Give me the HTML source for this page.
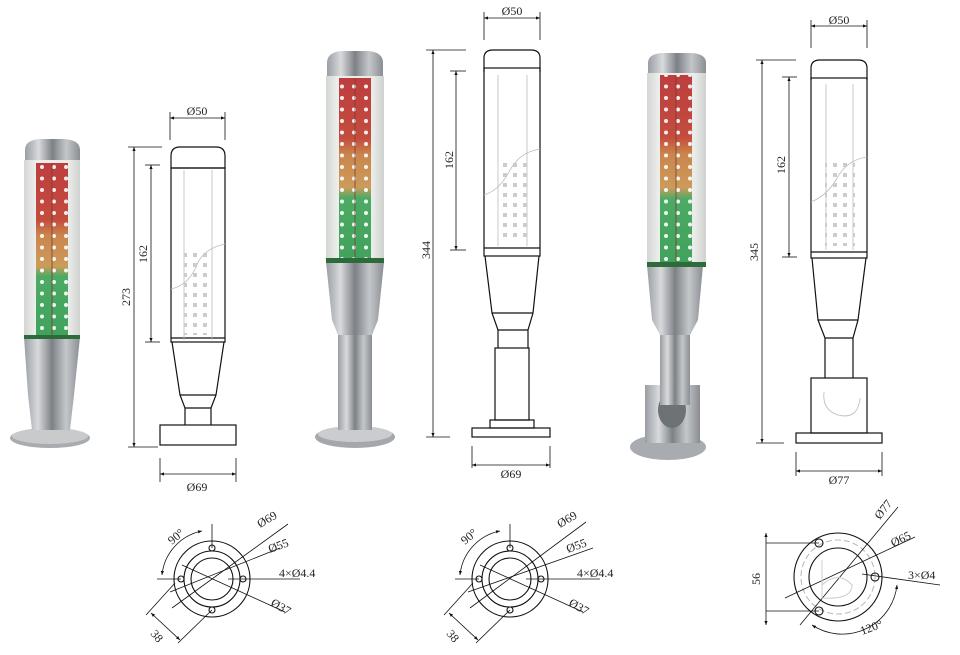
<!DOCTYPE html>
<html><head><meta charset="utf-8"><style>
html,body{margin:0;padding:0;background:#fff;}
svg{display:block;}
text{font-family:"Liberation Serif",serif;fill:#222;}
</style></head><body>
<svg width="960" height="655" viewBox="0 0 960 655" xmlns="http://www.w3.org/2000/svg">
<defs>
<marker id="ar" viewBox="0 0 10 10" refX="10" refY="5" markerWidth="7" markerHeight="5" orient="auto-start-reverse">
<path d="M0 1 L10 5 L0 9 Z" fill="#111"/></marker>
<linearGradient id="led" x1="0" y1="0" x2="0" y2="1">
<stop offset="0" stop-color="#b82a2c"/><stop offset="0.33" stop-color="#bf3a2a"/>
<stop offset="0.42" stop-color="#c67a3a"/><stop offset="0.6" stop-color="#c8924a"/>
<stop offset="0.66" stop-color="#3aa356"/><stop offset="1" stop-color="#2d9a4c"/>
</linearGradient>
<linearGradient id="metal" x1="0" y1="0" x2="1" y2="0">
<stop offset="0" stop-color="#9a9ea3"/><stop offset="0.25" stop-color="#d8dadc"/>
<stop offset="0.5" stop-color="#7d8186"/><stop offset="0.75" stop-color="#c4c7ca"/>
<stop offset="1" stop-color="#8a8e92"/>
</linearGradient>
<linearGradient id="lens" x1="0" y1="0" x2="1" y2="0">
<stop offset="0" stop-color="#d4d6d4"/><stop offset="0.2" stop-color="#eceeec"/>
<stop offset="0.8" stop-color="#eaecea"/><stop offset="1" stop-color="#cfd1cf"/>
</linearGradient>
<pattern id="dots" width="12" height="11.5" patternUnits="userSpaceOnUse">
<circle cx="6" cy="6" r="2" fill="#fff" opacity="0.9"/>
</pattern>
<pattern id="sq" width="10" height="10" patternUnits="userSpaceOnUse">
<rect x="3" y="3" width="4" height="4" fill="#ccc"/>
</pattern>
</defs>

<!-- ===== PHOTO 1 ===== -->
<g>
<ellipse cx="50" cy="438" rx="40" ry="10" fill="#a8acb0"/>
<ellipse cx="50" cy="436" rx="38" ry="8" fill="#c8cacc"/>
<path d="M24 337 H80 L74 395 L70 430 H32 L28 395 Z" fill="url(#metal)"/>
<rect x="24" y="160" width="56" height="178" fill="url(#lens)"/>
<rect x="36" y="163" width="32" height="172" fill="url(#led)" opacity="0.9"/>
<rect x="36" y="163" width="32" height="172" fill="url(#dots)"/>
<line x1="52" y1="163" x2="52" y2="335" stroke="#7a3a30" stroke-width="1.5" opacity="0.5"/>
<path d="M25 160 V150 Q25 140 40 139 H64 Q80 140 80 150 V160 Z" fill="url(#metal)"/>
<rect x="24" y="335" width="56" height="4" fill="#2e6b3a"/>
</g>

<!-- ===== PHOTO 2 ===== -->
<g>
<ellipse cx="355" cy="437" rx="40" ry="11" fill="#a4a8ac"/>
<ellipse cx="355" cy="434" rx="37" ry="8" fill="#cacccf"/>
<rect x="338" y="330" width="34" height="100" fill="url(#metal)"/>
<path d="M326 262 H384 L378 320 L372 335 H338 L332 320 Z" fill="url(#metal)"/>
<rect x="326" y="76" width="58" height="186" fill="url(#lens)"/>
<rect x="339" y="78" width="32" height="182" fill="url(#led)" opacity="0.9"/>
<rect x="339" y="78" width="32" height="182" fill="url(#dots)"/>
<line x1="355" y1="78" x2="355" y2="260" stroke="#7a3a30" stroke-width="1.5" opacity="0.5"/>
<path d="M327 76 V63 Q327 52 342 51 H368 Q383 52 383 63 V76 Z" fill="url(#metal)"/>
<rect x="326" y="258" width="58" height="5" fill="#2e6b3a"/>
</g>

<!-- ===== PHOTO 3 ===== -->
<g>
<ellipse cx="668" cy="447" rx="38" ry="13" fill="#a8acb0"/>
<rect x="645" y="385" width="55" height="58" fill="url(#metal)"/>
<ellipse cx="672" cy="410" rx="14" ry="18" fill="#6d7276"/>
<rect x="660" y="330" width="30" height="75" fill="url(#metal)"/>
<path d="M647 265 H703 L698 320 L690 335 H660 L652 320 Z" fill="url(#metal)"/>
<rect x="647" y="73" width="59" height="192" fill="url(#lens)"/>
<rect x="660" y="75" width="32" height="188" fill="url(#led)" opacity="0.9"/>
<rect x="660" y="75" width="32" height="188" fill="url(#dots)"/>
<line x1="676" y1="75" x2="676" y2="263" stroke="#7a3a30" stroke-width="1.5" opacity="0.5"/>
<path d="M648 73 V63 Q648 54 662 53 H692 Q706 54 706 63 V73 Z" fill="url(#metal)"/>
<rect x="647" y="262" width="59" height="5" fill="#2e6b3a"/>
</g>

<g fill="none" stroke="#111" stroke-width="1.2">
<!-- ===== DRAWING 1 ===== -->
<path d="M171 168 V156 Q171 147 180 147 H216 Q225 147 225 156 V168 Z"/>
<rect x="171" y="168" width="54" height="174"/>
<line x1="171" y1="338" x2="225" y2="338"/>
<path d="M172 342 L180 395 L185 408 V425 M224 342 L216 395 L211 408 V425 M180 395 H216 M185 408 H211"/>
<rect x="160" y="425" width="76" height="20"/>
<g stroke-width="0.8">
<line x1="170" y1="112" x2="170" y2="140"/><line x1="225" y1="112" x2="225" y2="140"/>
<line x1="170" y1="118" x2="225" y2="118" marker-start="url(#ar)" marker-end="url(#ar)"/>
<line x1="128" y1="147" x2="162" y2="147"/><line x1="128" y1="447" x2="158" y2="447"/>
<line x1="134" y1="147" x2="134" y2="447" marker-start="url(#ar)" marker-end="url(#ar)"/>
<line x1="145" y1="165" x2="160" y2="165"/><line x1="145" y1="342" x2="160" y2="342"/>
<line x1="151" y1="165" x2="151" y2="342" marker-start="url(#ar)" marker-end="url(#ar)"/>
<line x1="160" y1="458" x2="160" y2="482"/><line x1="236" y1="458" x2="236" y2="482"/>
<line x1="160" y1="474" x2="236" y2="474" marker-start="url(#ar)" marker-end="url(#ar)"/>
</g>
</g>
<g stroke="#bbb" fill="none" stroke-width="0.8">
<line x1="184" y1="170" x2="184" y2="340"/><line x1="212" y1="170" x2="212" y2="340"/>
<path d="M171 289 Q190 285 198 262 Q206 248 225 244"/>
</g>
<rect x="184" y="250" width="28" height="85" fill="url(#sq)"/>

<!-- ===== DRAWING 2 ===== -->
<g fill="none" stroke="#111" stroke-width="1.2">
<path d="M484 72 V58 Q484 50 493 50 H531 Q540 50 540 58 V72"/>
<rect x="484" y="68" width="56" height="188"/>
<line x1="484" y1="248" x2="540" y2="248"/>
<path d="M485 256 L492 313 L498 330 V348 M539 256 L533 313 L528 330 V348 M492 313 H533 M498 330 H528"/>
<rect x="495" y="348" width="34" height="72"/>
<rect x="490" y="420" width="44" height="8"/>
<rect x="472" y="428" width="78" height="9"/>
<g stroke-width="0.8">
<line x1="484" y1="12" x2="484" y2="40"/><line x1="540" y1="12" x2="540" y2="40"/>
<line x1="484" y1="18" x2="540" y2="18" marker-start="url(#ar)" marker-end="url(#ar)"/>
<line x1="426" y1="50" x2="466" y2="50"/><line x1="426" y1="437" x2="450" y2="437"/>
<line x1="433" y1="50" x2="433" y2="437" marker-start="url(#ar)" marker-end="url(#ar)"/>
<line x1="450" y1="71" x2="466" y2="71"/><line x1="450" y1="250" x2="466" y2="250"/>
<line x1="456" y1="71" x2="456" y2="250" marker-start="url(#ar)" marker-end="url(#ar)"/>
<line x1="472" y1="446" x2="472" y2="468"/><line x1="550" y1="446" x2="550" y2="468"/>
<line x1="472" y1="465" x2="550" y2="465" marker-start="url(#ar)" marker-end="url(#ar)"/>
</g>
</g>
<g stroke="#bbb" fill="none" stroke-width="0.8">
<line x1="498" y1="75" x2="498" y2="246"/><line x1="527" y1="75" x2="527" y2="246"/>
<path d="M484 195 Q500 190 510 170 Q520 152 540 149"/>
</g>
<rect x="497" y="160" width="30" height="82" fill="url(#sq)"/>

<!-- ===== DRAWING 3 ===== -->
<g fill="none" stroke="#111" stroke-width="1.2">
<path d="M811 80 V68 Q811 60 820 60 H858 Q867 60 867 68 V80"/>
<rect x="811" y="78" width="56" height="180"/>
<line x1="811" y1="252" x2="867" y2="252"/>
<path d="M812 258 L818 320 L825 338 V378 M866 258 L858 320 L853 338 V378 M818 320 H858 M825 338 H853"/>
<rect x="811" y="378" width="56" height="55"/>
<rect x="796" y="433" width="86" height="10"/>
<g stroke-width="0.8">
<line x1="811" y1="20" x2="811" y2="48"/><line x1="867" y1="20" x2="867" y2="48"/>
<line x1="811" y1="26" x2="867" y2="26" marker-start="url(#ar)" marker-end="url(#ar)"/>
<line x1="756" y1="60" x2="796" y2="60"/><line x1="756" y1="443" x2="784" y2="443"/>
<line x1="762" y1="60" x2="762" y2="443" marker-start="url(#ar)" marker-end="url(#ar)"/>
<line x1="782" y1="77" x2="797" y2="77"/><line x1="782" y1="257" x2="797" y2="257"/>
<line x1="789" y1="77" x2="789" y2="257" marker-start="url(#ar)" marker-end="url(#ar)"/>
<line x1="796" y1="452" x2="796" y2="476"/><line x1="882" y1="452" x2="882" y2="476"/>
<line x1="796" y1="471" x2="882" y2="471" marker-start="url(#ar)" marker-end="url(#ar)"/>
</g>
</g>
<g stroke="#bbb" fill="none" stroke-width="0.8">
<line x1="826" y1="84" x2="826" y2="250"/><line x1="853" y1="84" x2="853" y2="250"/>
<path d="M811 202 Q826 196 836 180 Q846 160 867 157"/>
<path d="M824 392 Q822 410 838 415 Q858 420 860 398"/>
</g>
<rect x="825" y="162" width="30" height="84" fill="url(#sq)"/>

<!-- dim texts -->
<text x="197" y="115" font-size="12" text-anchor="middle">Ø50</text>
<text x="197" y="491" font-size="12" text-anchor="middle">Ø69</text>
<text font-size="12" transform="translate(130,297) rotate(-90)" text-anchor="middle">273</text>
<text font-size="12" transform="translate(147,254) rotate(-90)" text-anchor="middle">162</text>
<text x="512" y="15" font-size="12" text-anchor="middle">Ø50</text>
<text x="511" y="478" font-size="12" text-anchor="middle">Ø69</text>
<text font-size="12" transform="translate(430,250) rotate(-90)" text-anchor="middle">344</text>
<text font-size="12" transform="translate(453,160) rotate(-90)" text-anchor="middle">162</text>
<text x="839" y="24" font-size="12" text-anchor="middle">Ø50</text>
<text x="839" y="484" font-size="12" text-anchor="middle">Ø77</text>
<text font-size="12" transform="translate(758,252) rotate(-90)" text-anchor="middle">345</text>
<text font-size="12" transform="translate(785,165) rotate(-90)" text-anchor="middle">162</text>

<!-- ===== BOTTOM 1 ===== -->
<g fill="none" stroke="#111" stroke-width="1.1">
<circle cx="212" cy="579" r="38"/><circle cx="212" cy="579" r="28"/><circle cx="212" cy="579" r="21"/>
<circle cx="212" cy="548" r="3"/><circle cx="212" cy="610" r="3"/><circle cx="181" cy="579" r="3"/><circle cx="243" cy="579" r="3"/>
<g stroke-width="0.8">
<line x1="212" y1="524" x2="212" y2="548"/><line x1="157" y1="579" x2="181" y2="579"/>
<line x1="228" y1="579" x2="300" y2="579"/>
<line x1="172" y1="608" x2="288" y2="524"/><line x1="170" y1="592" x2="280" y2="548"/>
<line x1="182" y1="565" x2="285" y2="612"/>
<path d="M162 575 A50 50 0 0 1 202 531" marker-start="url(#ar)" marker-end="url(#ar)"/>
<line x1="146" y1="615" x2="175" y2="583"/><line x1="178" y1="643" x2="212" y2="610"/>
<line x1="151" y1="613" x2="180" y2="640" marker-start="url(#ar)" marker-end="url(#ar)"/>
</g>
</g>
<text font-size="12" transform="translate(172,545) rotate(-40)">90°</text>
<text font-size="12" transform="translate(260,528) rotate(-30)">Ø69</text>
<text font-size="12" transform="translate(270,553) rotate(-20)">Ø55</text>
<text x="279" y="577" font-size="12">4×Ø4.4</text>
<text font-size="12" transform="translate(270,605) rotate(30)">Ø37</text>
<text font-size="12" transform="translate(150,634) rotate(50)">38</text>

<!-- ===== BOTTOM 2 ===== -->
<g fill="none" stroke="#111" stroke-width="1.1">
<circle cx="510" cy="579" r="38"/><circle cx="510" cy="579" r="28"/><circle cx="510" cy="579" r="21"/>
<circle cx="510" cy="548" r="3"/><circle cx="510" cy="610" r="3"/><circle cx="479" cy="579" r="3"/><circle cx="541" cy="579" r="3"/>
<g stroke-width="0.8">
<line x1="510" y1="524" x2="510" y2="548"/><line x1="455" y1="579" x2="479" y2="579"/>
<line x1="526" y1="579" x2="600" y2="579"/>
<line x1="470" y1="608" x2="586" y2="522"/><line x1="468" y1="592" x2="593" y2="548"/>
<line x1="480" y1="565" x2="583" y2="612"/>
<path d="M460 575 A50 50 0 0 1 500 531" marker-start="url(#ar)" marker-end="url(#ar)"/>
<line x1="444" y1="615" x2="473" y2="583"/><line x1="476" y1="643" x2="510" y2="610"/>
<line x1="449" y1="613" x2="478" y2="640" marker-start="url(#ar)" marker-end="url(#ar)"/>
</g>
</g>
<text font-size="12" transform="translate(465,545) rotate(-40)">90°</text>
<text font-size="12" transform="translate(560,528) rotate(-30)">Ø69</text>
<text font-size="12" transform="translate(568,553) rotate(-20)">Ø55</text>
<text x="577" y="577" font-size="12">4×Ø4.4</text>
<text font-size="12" transform="translate(568,605) rotate(30)">Ø37</text>
<text font-size="12" transform="translate(446,634) rotate(50)">38</text>

<!-- ===== BOTTOM 3 ===== -->
<g fill="none" stroke="#111" stroke-width="1.1">
<circle cx="838" cy="577" r="44"/><circle cx="838" cy="577" r="29"/>
<circle cx="838" cy="577" r="37" stroke="#bbb" stroke-dasharray="6 3"/>
<circle cx="819" cy="543" r="4"/><circle cx="819" cy="611" r="4"/><circle cx="875" cy="577" r="4"/>
<g stroke-width="0.8">
<line x1="766" y1="543" x2="819" y2="543"/><line x1="766" y1="611" x2="819" y2="611"/>
<line x1="766" y1="533" x2="766" y2="625" marker-start="url(#ar)" marker-end="url(#ar)"/>
<line x1="800" y1="625" x2="898" y2="507"/>
<line x1="785" y1="598" x2="915" y2="537"/>
<line x1="862" y1="574" x2="940" y2="585"/>
<path d="M812 625 A55 55 0 0 0 897 585" marker-start="url(#ar)" marker-end="url(#ar)"/>
</g>
</g>
<g stroke="#ccc" fill="none"><path d="M822 560 V598 M822 585 Q838 570 852 585 Q852 600 822 598"/></g>
<text font-size="12" transform="translate(760,585) rotate(-90)">56</text>
<text font-size="12" transform="translate(880,520) rotate(-52)">Ø77</text>
<text font-size="12" transform="translate(893,547) rotate(-25)">Ø65</text>
<text x="908" y="579" font-size="12">3×Ø4</text>
<text font-size="12" transform="translate(862,635) rotate(-20)">120°</text>
</svg>
</body></html>
